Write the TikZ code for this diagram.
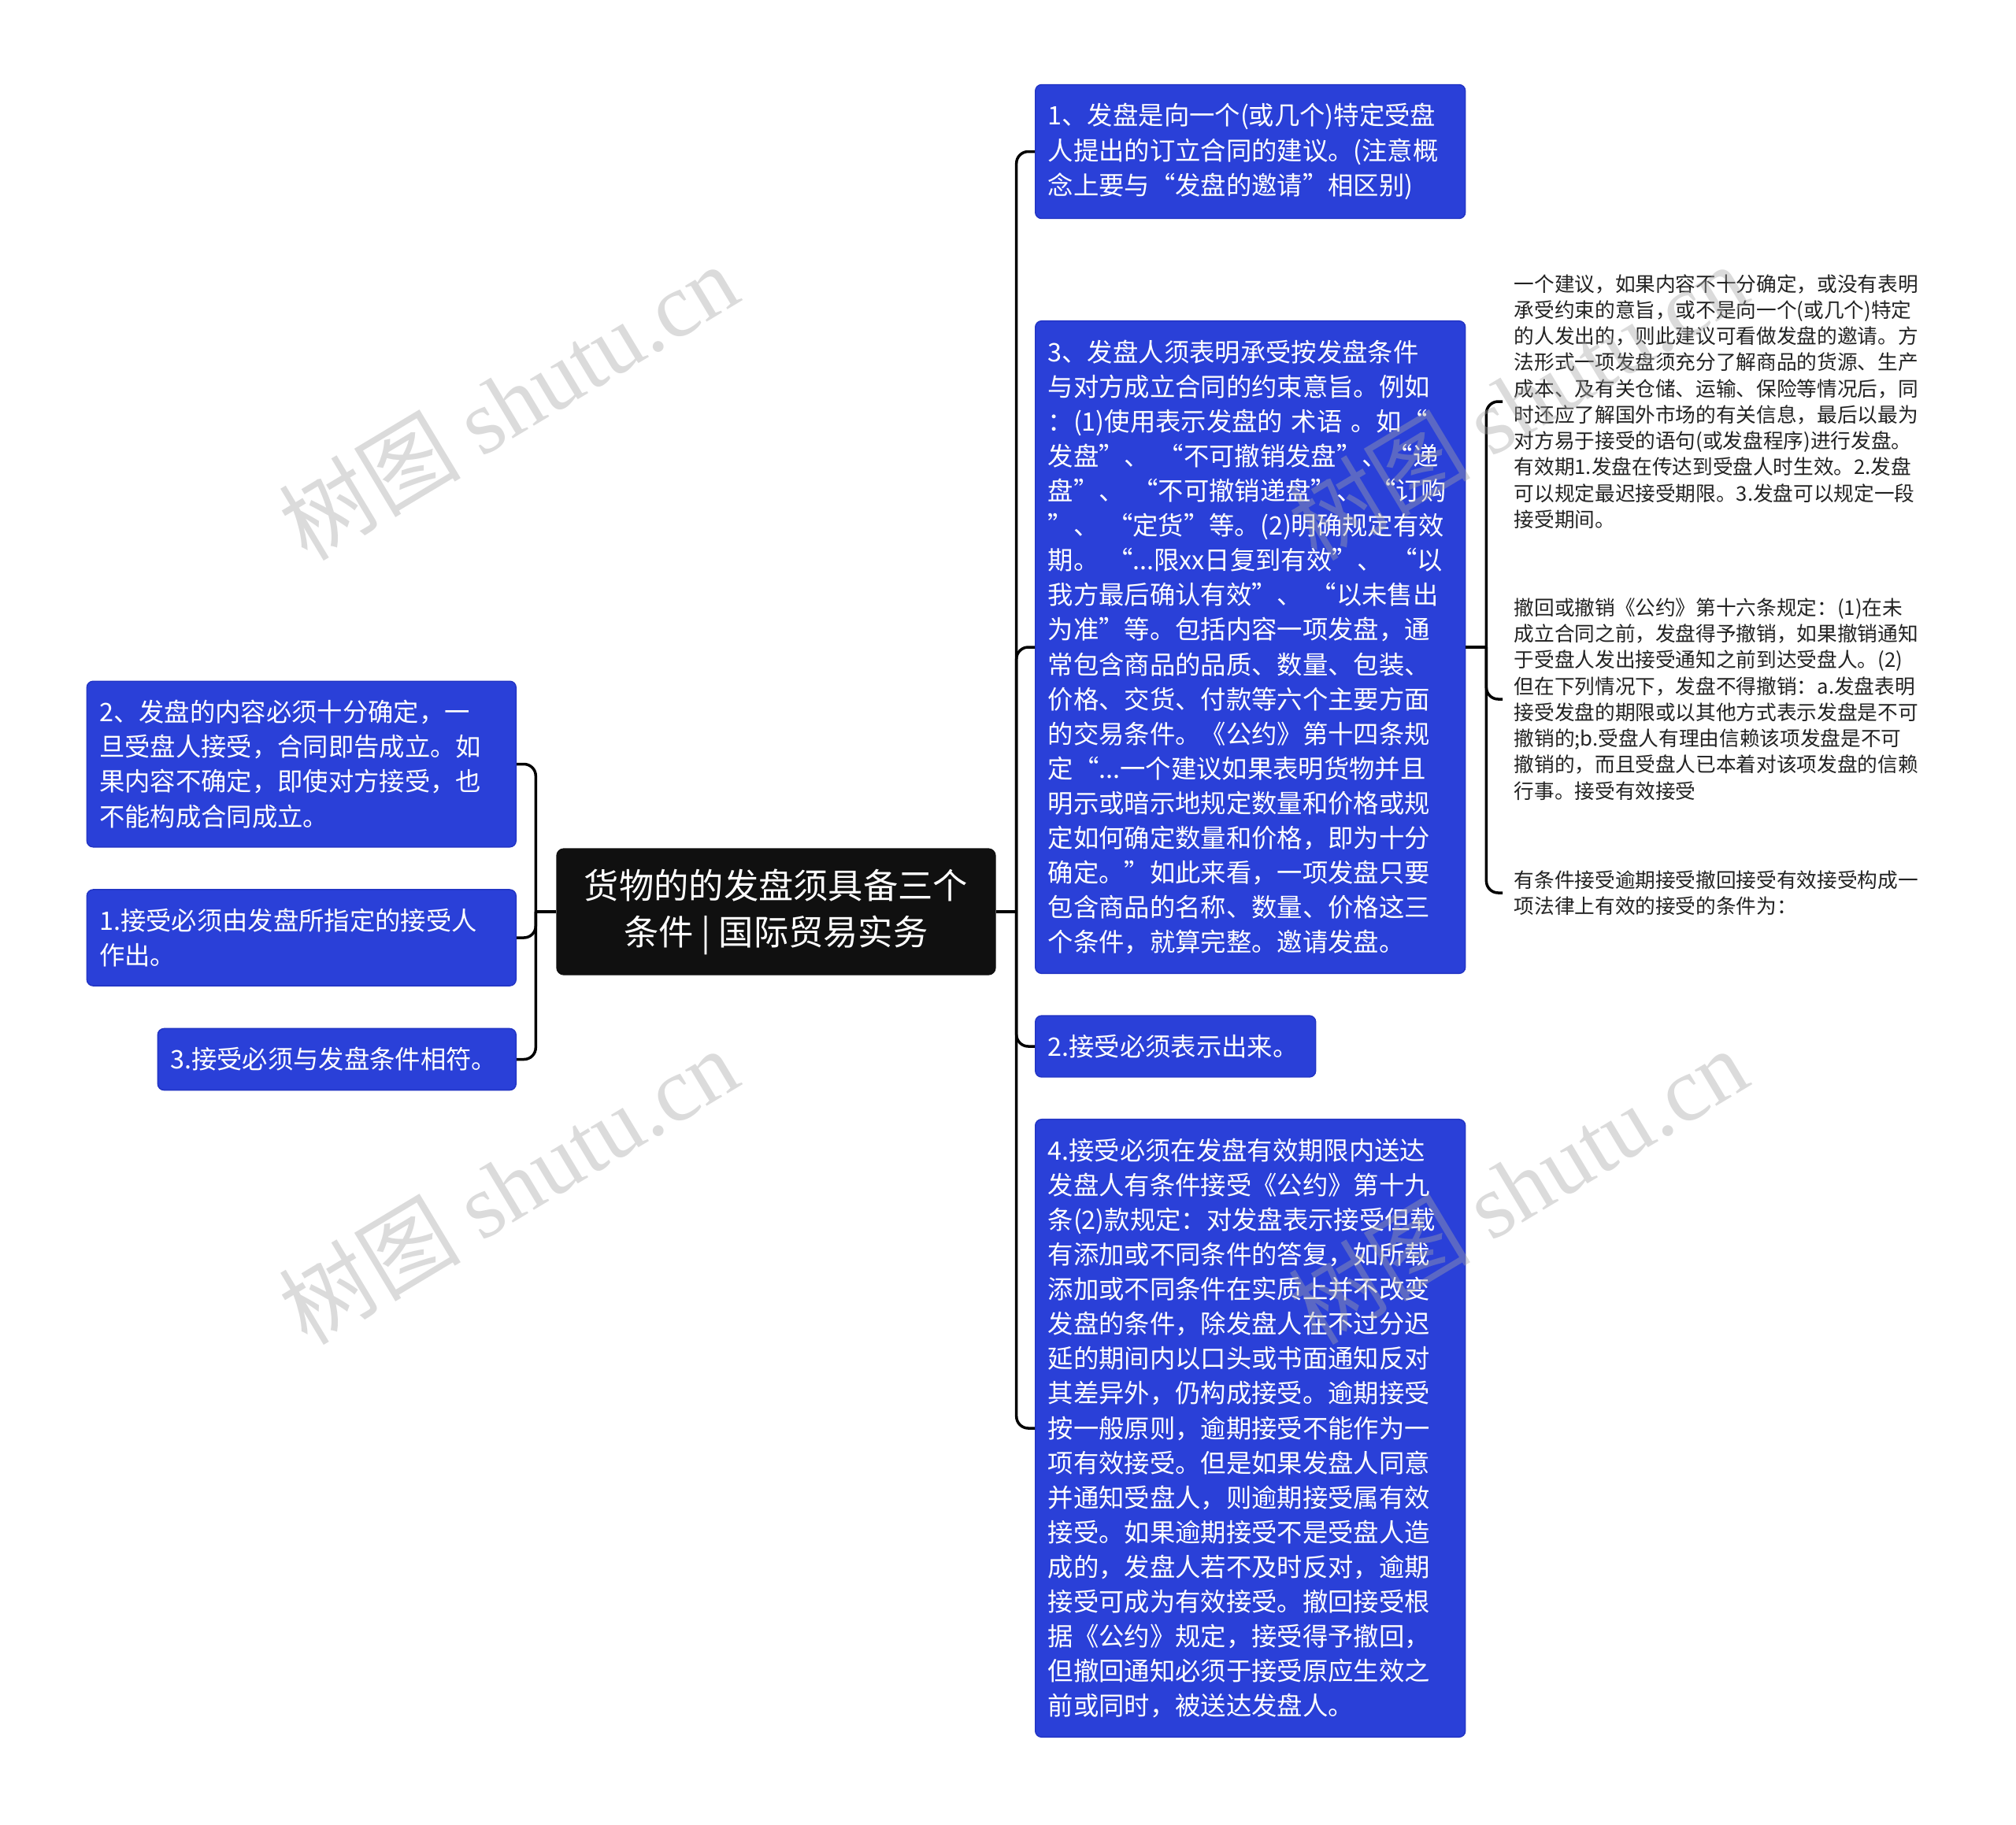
\documentclass[tikz,border=0pt]{standalone}
\usepackage{fontspec}
\setmainfont{Noto Sans CJK SC}
\newfontfamily\vmfont{Liberation Serif}
\usetikzlibrary{positioning}
\definecolor{blokkblaa}{RGB}{42,64,216}
\definecolor{blokkkant}{RGB}{34,52,196}
\definecolor{rotsvart}{RGB}{16,16,16}
\definecolor{merkgraa}{RGB}{34,34,34}
\begin{document}
\begin{tikzpicture}[%
rot/.style={fill=rotsvart,draw=rotsvart,rounded corners=0.09cm,text=white,align=center,
  minimum width=5.57cm,minimum height=1.6cm,font=\fontsize{12.6pt}{16.8pt}\selectfont},
blokk/.style={fill=blokkblaa,draw=blokkkant,rounded corners=0.08cm,text=white,align=left,
  inner xsep=0.16cm,inner ysep=0.24cm,font=\fontsize{9.2pt}{12.55pt}\selectfont},
merknad/.style={text=merkgraa,align=left,inner xsep=0.14cm,text width=5.3cm,
  font=\fontsize{7.3pt}{9.45pt}\selectfont},
grein/.style={draw=black,line width=1pt,rounded corners=0.15cm},
vannmerke/.style={text=black!35,opacity=0.4,rotate=31,font=\fontsize{33pt}{33pt}\selectfont}]
\useasboundingbox (0,0) rectangle (25.6,-23.17);
\node [rot] (tittel) at (9.855,-11.58) {货物的的发盘须具备三个\\条件 | 国际贸易实务};
\node [blokk,text width=5.13cm,anchor=east] (v1) at (6.56,-9.705) {2、发盘的内容必须十分确定，一\\
旦受盘人接受，合同即告成立。如\\
果内容不确定，即使对方接受，也\\
不能构成合同成立。};
\node [blokk,text width=5.13cm,anchor=east] (v2) at (6.56,-11.91) {1.接受必须由发盘所指定的接受人\\
作出。};
\node [blokk,text width=4.23cm,anchor=east] (v3) at (6.56,-13.455) {3.接受必须与发盘条件相符。};
\node [blokk,text width=5.14cm,anchor=west] (h1) at (13.14,-1.925) {1、发盘是向一个(或几个)特定受盘\\
人提出的订立合同的建议。(注意概\\
念上要与“发盘的邀请”相区别)};
\node [blokk,text width=5.14cm,anchor=west] (h2) at (13.14,-8.22) {3、发盘人须表明承受按发盘条件\\
与对方成立合同的约束意旨。例如\\
：(1)使用表示发盘的 术语 。如“\\
发盘”、 “不可撤销发盘”、“递\\
盘”、 “不可撤销递盘”、 “订购\\
”、 “定货”等。(2)明确规定有效\\
期。 “...限xx日复到有效”、 “以\\
我方最后确认有效”、 “以未售出\\
为准”等。包括内容一项发盘，通\\
常包含商品的品质、数量、包装、\\
价格、交货、付款等六个主要方面\\
的交易条件。《公约》第十四条规\\
定“...一个建议如果表明货物并且\\
明示或暗示地规定数量和价格或规\\
定如何确定数量和价格，即为十分\\
确定。”如此来看，一项发盘只要\\
包含商品的名称、数量、价格这三\\
个条件，就算完整。邀请发盘。};
\node [blokk,text width=3.24cm,anchor=west] (h3) at (13.14,-13.29) {2.接受必须表示出来。};
\node [blokk,text width=5.14cm,anchor=west] (h4) at (13.14,-18.14) {4.接受必须在发盘有效期限内送达\\
发盘人有条件接受《公约》第十九\\
条(2)款规定：对发盘表示接受但载\\
有添加或不同条件的答复，如所载\\
添加或不同条件在实质上并不改变\\
发盘的条件，除发盘人在不过分迟\\
延的期间内以口头或书面通知反对\\
其差异外，仍构成接受。逾期接受\\
按一般原则，逾期接受不能作为一\\
项有效接受。但是如果发盘人同意\\
并通知受盘人，则逾期接受属有效\\
接受。如果逾期接受不是受盘人造\\
成的，发盘人若不及时反对，逾期\\
接受可成为有效接受。撤回接受根\\
据《公约》规定，接受得予撤回，\\
但撤回通知必须于接受原应生效之\\
前或同时，被送达发盘人。};
\node [merknad,anchor=west] (m1) at (19.08,-5.10) {一个建议，如果内容不十分确定，或没有表明\\
承受约束的意旨，或不是向一个(或几个)特定\\
的人发出的，则此建议可看做发盘的邀请。方\\
法形式一项发盘须充分了解商品的货源、生产\\
成本、及有关仓储、运输、保险等情况后，同\\
时还应了解国外市场的有关信息，最后以最为\\
对方易于接受的语句(或发盘程序)进行发盘。\\
有效期1.发盘在传达到受盘人时生效。2.发盘\\
可以规定最迟接受期限。3.发盘可以规定一段\\
接受期间。};
\node [merknad,anchor=west] (m2) at (19.08,-8.88) {撤回或撤销《公约》第十六条规定：(1)在未\\
成立合同之前，发盘得予撤销，如果撤销通知\\
于受盘人发出接受通知之前到达受盘人。(2)\\
但在下列情况下，发盘不得撤销：a.发盘表明\\
接受发盘的期限或以其他方式表示发盘是不可\\
撤销的;b.受盘人有理由信赖该项发盘是不可\\
撤销的，而且受盘人已本着对该项发盘的信赖\\
行事。接受有效接受};
\node [merknad,anchor=west] (m3) at (19.08,-11.34) {有条件接受逾期接受撤回接受有效接受构成一\\
项法律上有效的接受的条件为：};
\coordinate [left=0.26cm of tittel.west] (vkryss);
\coordinate [right=0.26cm of tittel.east] (hkryss);
\coordinate [right=0.26cm of h2.east] (mkryss);
\draw [grein] (tittel.west) -- (vkryss);
\draw [grein] (vkryss)      |- (v1.east);
\draw [grein] (vkryss)      |- (v2.east);
\draw [grein] (vkryss)      |- (v3.east);
\draw [grein] (tittel.east) -- (hkryss);
\draw [grein] (hkryss)      |- (h1.west);
\draw [grein] (hkryss)      |- (h2.west);
\draw [grein] (hkryss)      |- (h3.west);
\draw [grein] (hkryss)      |- (h4.west);
\draw [grein] (h2.east)     -- (mkryss);
\draw [grein] (mkryss)      |- (m1.west);
\draw [grein] (mkryss)      |- (m2.west);
\draw [grein] (mkryss)      |- (m3.west);
\node [vannmerke] (vm1) at (6.45,-5.10)  {树图 {\vmfont shutu.cn}};
\node [vannmerke] (vm2) at (6.45,-15.06) {树图 {\vmfont shutu.cn}};
\node [vannmerke] (vm3) at (19.27,-5.10) {树图 {\vmfont shutu.cn}};
\node [vannmerke] (vm4) at (19.27,-15.06) {树图 {\vmfont shutu.cn}};
\end{tikzpicture}
\end{document}
